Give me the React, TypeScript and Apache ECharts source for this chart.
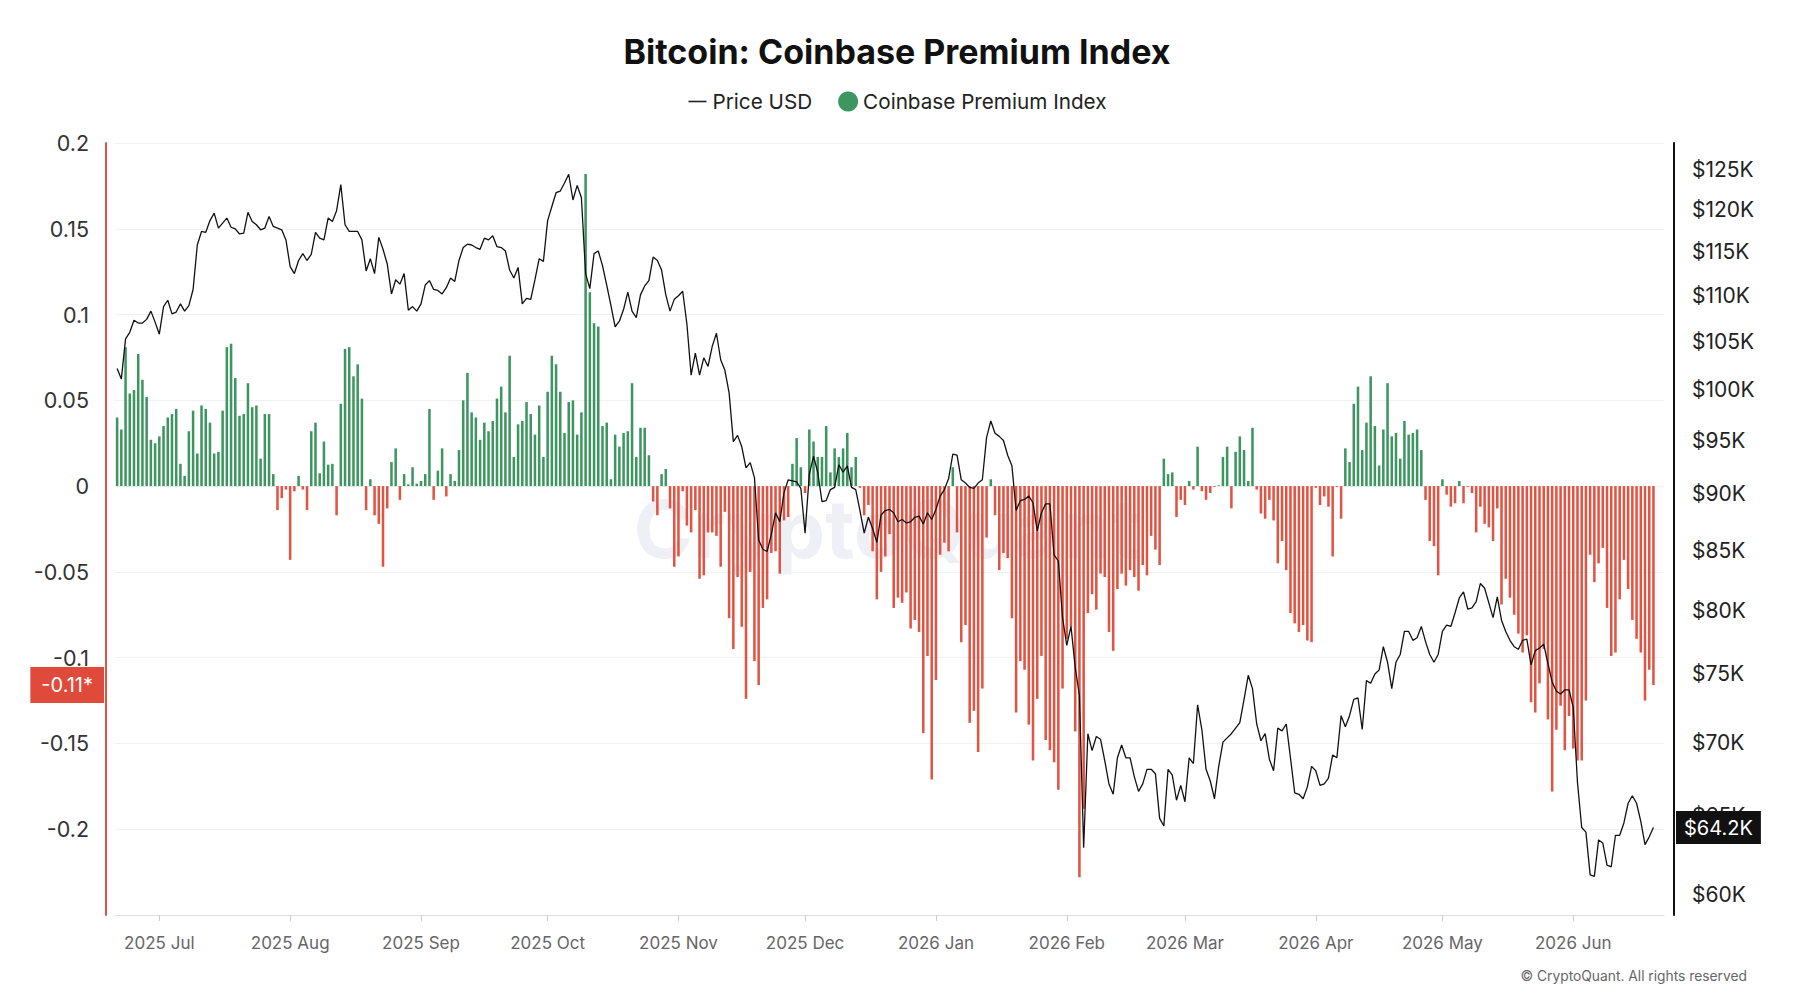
import React, { useEffect, useRef } from "react";
import * as echarts from "echarts";

const FONT = 'Inter, "Noto Sans", Roboto, sans-serif';
const GREEN = "#3d9660";
const RED = "#e25342";

// Daily categories: first day of data and count of category slots
const START_DATE = "2025-06-21";
const DAY_COUNT = 367;
const MONTHS = ["Jan", "Feb", "Mar", "Apr", "May", "Jun", "Jul", "Aug", "Sep", "Oct", "Nov", "Dec"];

// Coinbase Premium Index (daily, from 2025-06-21)
const PREMIUM = [
  0.040, 0.033, 0.081, 0.054, 0.056, 0.077, 0.062, 0.052, 0.027, 0.025,
  0.029, 0.035, 0.040, 0.042, 0.045, 0.013, 0.006, 0.032, 0.044, 0.019,
  0.047, 0.045, 0.037, 0.019, 0.020, 0.044, 0.081, 0.083, 0.063, 0.041,
  0.042, 0.060, 0.046, 0.047, 0.016, 0.042, 0.042, 0.007, -0.014, -0.007,
  -0.002, -0.043, -0.003, 0.006, -0.002, -0.014,
  0.032, 0.037, 0.0075, 0.026, 0.0125, 0.013, -0.017, 0.048, 0.080, 0.081,
  0.064, 0.071, 0.051, -0.014, 0.004, -0.017, -0.022, -0.047, -0.013, 0.014,
  0.022, -0.008, 0.007, 0.001, 0.011, 0.0014, 0.003, 0.007, 0.045, -0.008,
  0.009, 0.022, -0.006, 0.007, 0.003, 0.021, 0.050, 0.066, 0.043, 0.040,
  0.027, 0.037, 0.032, 0.038, 0.051, 0.058,
  0.043, 0.076, 0.017, 0.036, 0.038, 0.049, 0.042, 0.030, 0.047, 0.017,
  0.055, 0.076, 0.071, 0.055, 0.031, 0.049, 0.050, 0.030, 0.043, 0.182,
  0.113, 0.095, 0.093, 0.035, 0.037, 0.004, 0.030, 0.023, 0.031, 0.032,
  0.060, 0.017, 0.034, 0.034, 0.018, -0.009, -0.017, 0.007, 0.010, -0.013,
  -0.047, -0.041, -0.003, -0.023, -0.027, -0.014, -0.054,
  -0.052, -0.027, -0.027, -0.029, -0.047, -0.015, -0.077, -0.095, -0.053, -0.082,
  -0.124, -0.050, -0.102, -0.116, -0.071, -0.066, -0.039, -0.038, -0.051, -0.020,
  -0.018, 0.013, 0.028, 0.011, -0.004, 0.033, 0.026, 0.017, 0.017, 0.035,
  0.008, 0.022, 0.017, 0.022, 0.031, 0.011, 0.017, -0.001, -0.017, -0.011,
  -0.038, -0.066, -0.050, -0.041, -0.028, -0.071,
  -0.065, -0.068, -0.062, -0.083, -0.078, -0.085, -0.144, -0.099, -0.171, -0.113,
  -0.040, -0.033, -0.038, 0.011, -0.027, -0.091, -0.081, -0.138, -0.131, -0.155,
  -0.118, -0.030, 0.004, -0.017, -0.049, -0.039, -0.042, -0.077, -0.132, -0.102,
  -0.107, -0.139, -0.160, -0.124, -0.099, -0.148, -0.154, -0.161, -0.177, -0.118,
  -0.089, -0.082, -0.143, -0.228, -0.188, -0.074,
  -0.063, -0.072, -0.051, -0.053, -0.085, -0.096, -0.060, -0.051, -0.058, -0.049,
  -0.053, -0.061, -0.046, -0.052, -0.029, -0.037, -0.046, 0.016, 0.007, 0.008,
  -0.018, -0.008, -0.011, 0.003, -0.002, 0.023, -0.003, -0.008, -0.004, -0.0005,
  0.0005, 0.017, 0.023, -0.013, 0.020, 0.029, 0.021, 0.003, 0.034, -0.002,
  -0.016, -0.019, -0.008, -0.020, -0.045, -0.032,
  -0.049, -0.074, -0.080, -0.085, -0.081, -0.090, -0.091, -0.001, -0.011, -0.006,
  -0.012, -0.041, -0.0005, -0.019, 0.022, 0.014, 0.048, 0.058, 0.021, 0.037,
  0.064, 0.035, 0.012, 0.033, 0.060, 0.029, 0.031, 0.016, 0.038, 0.030,
  0.031, 0.033, 0.021, -0.008, -0.032, -0.035, -0.052, 0.004, -0.005, -0.012,
  -0.010, 0.003, -0.010, -0.0005, -0.004, -0.027, -0.012,
  -0.022, -0.024, -0.032, -0.013, -0.069, -0.054, -0.065, -0.075, -0.086, -0.097,
  -0.087, -0.126, -0.132, -0.115, -0.095, -0.136, -0.178, -0.142, -0.128, -0.154,
  -0.134, -0.153, -0.160, -0.160, -0.125, -0.040, -0.056, -0.045, -0.036, -0.071,
  -0.099, -0.097, -0.066, -0.043, -0.060, -0.078, -0.089, -0.097, -0.125, -0.107,
  -0.116,
];

// BTC price in USD thousands (daily, from 2025-06-21)
const PRICE = [
  102.2, 101.1, 105.3, 106.0, 107.3, 107.0, 107.0, 107.4, 108.3, 107.1,
  105.8, 108.8, 109.5, 108.0, 108.2, 109.1, 108.3, 108.9, 110.7, 115.8,
  117.4, 117.3, 118.7, 119.6, 117.8, 118.4, 119.0, 117.9, 117.7, 117.1,
  117.2, 119.7, 118.6, 118.2, 117.6, 117.8, 119.2, 118.0, 117.8, 117.6,
  116.4, 113.3, 112.5, 114.0, 114.8, 114.0,
  114.7, 117.3, 116.6, 116.4, 119.0, 118.6, 119.9, 123.1, 118.2, 117.4,
  117.4, 117.4, 116.4, 112.8, 114.2, 112.5, 116.7, 115.3, 113.6, 110.2,
  111.8, 111.3, 112.5, 108.4, 108.8, 108.3, 109.1, 111.2, 111.7, 110.7,
  110.6, 110.2, 110.9, 112.0, 111.6, 114.0, 115.5, 115.9, 115.8, 115.5,
  115.3, 116.6, 116.4, 116.9, 115.6, 115.5,
  115.1, 112.9, 112.0, 113.2, 109.1, 109.7, 109.6, 111.8, 114.2, 113.9,
  118.7, 120.4, 122.1, 122.3, 123.3, 124.4, 121.2, 123.0, 121.5, 112.5,
  110.8, 114.8, 115.1, 113.4, 111.2, 108.9, 106.6, 107.2, 108.5, 110.4,
  108.3, 107.6, 110.1, 111.1, 111.7, 114.4, 114.0, 112.9, 110.1, 108.3,
  109.6, 110.0, 110.5, 106.9, 101.5, 103.8, 101.5,
  103.3, 102.4, 104.5, 105.9, 103.1, 102.0, 99.7, 94.9, 95.5, 94.4,
  92.4, 92.9, 91.5, 85.9, 85.1, 84.9, 86.4, 88.3, 87.5, 90.1,
  91.3, 91.2, 91.1, 90.5, 86.5, 91.8, 93.5, 92.0, 89.3, 89.4,
  90.4, 90.6, 92.7, 92.0, 92.6, 90.6, 90.4, 88.5, 86.5, 87.9,
  86.9, 85.7, 88.1, 88.5, 88.6, 88.3,
  87.5, 87.7, 87.4, 87.5, 87.9, 88.0, 87.3, 88.3, 87.7, 88.6,
  89.8, 90.4, 91.4, 93.7, 93.6, 91.3, 91.0, 90.6, 90.5, 91.0,
  91.3, 95.3, 96.9, 95.7, 95.4, 95.0, 93.6, 92.6, 88.5, 89.4,
  89.5, 89.8, 89.2, 86.7, 88.3, 89.1, 89.1, 84.6, 84.1, 79.4,
  77.2, 78.7, 75.5, 73.4, 62.9, 70.6,
  69.4, 70.4, 70.2, 68.7, 67.1, 66.4, 68.9, 69.8, 68.9, 68.9,
  67.6, 66.6, 67.1, 68.1, 68.1, 67.8, 64.8, 64.3, 68.1, 67.7,
  66.0, 67.0, 65.9, 68.9, 68.5, 72.7, 70.9, 68.1, 67.3, 66.1,
  68.3, 70.0, 70.3, 70.6, 71.0, 71.4, 73.1, 74.9, 73.9, 71.3,
  70.1, 70.6, 68.8, 68.0, 71.0, 70.8,
  71.3, 68.9, 66.5, 66.4, 66.1, 66.9, 68.3, 68.0, 67.0, 67.1,
  67.5, 69.1, 68.9, 71.9, 71.1, 71.9, 73.1, 73.2, 70.9, 74.5,
  74.3, 75.0, 75.3, 77.1, 75.9, 73.9, 75.9, 76.5, 78.3, 78.3,
  77.6, 77.8, 78.7, 77.5, 76.5, 75.9, 76.5, 78.3, 78.8, 78.7,
  79.8, 81.0, 81.5, 80.1, 80.2, 80.7, 82.2,
  81.8, 80.6, 79.4, 81.1, 79.2, 78.3, 77.6, 77.1, 76.9, 77.6,
  77.7, 75.7, 76.8, 77.0, 77.3, 75.8, 74.4, 73.7, 73.5, 73.8,
  73.8, 72.5, 67.2, 64.2, 63.9, 61.2, 61.1, 63.4, 63.2, 61.8,
  61.7, 63.7, 63.7, 64.5, 65.8, 66.3, 65.8, 64.6, 63.1, 63.6,
  64.2,
];

// Axis tick values
const LEFT_MIN = -0.25;
const LEFT_MAX = 0.2;
const LEFT_STEP = 0.05;
const PRICE_MIN = 58.76;
const PRICE_MAX = 128.4;
const PRICE_TICKS = [60, 65, 70, 75, 80, 85, 90, 95, 100, 105, 110, 115, 120, 125];

const LAST_PREMIUM_LABEL = "-0.11*";
const LAST_PRICE_LABEL = "$64.2K";

// legend icon for the price line: a thin dash inside a 20x20 box
const LINE_ICON = "path://M0,0 M20,20 M1,9.2 L19,9.2 L19,10.8 L1,10.8 Z";

function buildDates(): string[] {
  const [y, m, d] = START_DATE.split("-").map(Number);
  const base = Date.UTC(y, m - 1, d);
  const out: string[] = [];
  for (let i = 0; i < DAY_COUNT; i++) {
    const dt = new Date(base + i * 86400000);
    const mm = String(dt.getUTCMonth() + 1).padStart(2, "0");
    const dd = String(dt.getUTCDate()).padStart(2, "0");
    out.push(`${dt.getUTCFullYear()}-${mm}-${dd}`);
  }
  return out;
}

const isMonthStart = (_i: number, v: string) => v.slice(8) === "01";

export default function App() {
  const ref = useRef<HTMLDivElement>(null);

  useEffect(() => {
    if (!ref.current) return;
    const chart = echarts.init(ref.current, undefined, { renderer: "svg" });
    const dates = buildDates();

    const option: any = {
      animation: false,
      backgroundColor: "#ffffff",
      textStyle: { fontFamily: FONT },
      title: {
        text: "Bitcoin: Coinbase Premium Index",
        left: "center",
        top: 29,
        textStyle: { fontSize: 34, fontWeight: "bold", color: "#111111", fontFamily: FONT },
      },
      legend: {
        top: 86,
        left: "center",
        itemWidth: 20,
        itemHeight: 20,
        itemGap: 26,
        textStyle: { fontSize: 20.7, color: "#222222", fontFamily: FONT },
        data: [
          { name: "Price USD", icon: LINE_ICON, itemStyle: { color: "#222222" } },
          { name: "Coinbase Premium Index", icon: "circle", itemStyle: { color: GREEN } },
        ],
      },
      graphic: [
        {
          type: "text",
          x: 887,
          y: 528,
          z: -10,
          silent: true,
          style: {
            text: "CryptoQuant",
            fontSize: 80,
            fontWeight: "bold",
            fontFamily: FONT,
            fill: "#eef0f5",
            align: "center",
            verticalAlign: "middle",
            textAlign: "center",
            textVerticalAlign: "middle",
          },
        },
        {
          type: "text",
          right: 47,
          top: 969,
          style: {
            text: "© CryptoQuant. All rights reserved",
            fontSize: 13.8,
            fontFamily: FONT,
            fill: "#666666",
          },
        },
      ],
      grid: { left: 115, right: 130, top: 143, bottom: 91 },
      xAxis: {
        type: "category",
        data: dates,
        boundaryGap: true,
        axisLine: { onZero: false, lineStyle: { color: "#dddddd", width: 1 } },
        axisTick: { show: true, interval: isMonthStart, alignWithLabel: true, length: 6, lineStyle: { color: "#cccccc" } },
        axisLabel: {
          interval: isMonthStart,
          color: "#666666",
          fontSize: 17,
          margin: 19,
          fontFamily: FONT,
          formatter: (v: string) => `${v.slice(0, 4)} ${MONTHS[Number(v.slice(5, 7)) - 1]}`,
        },
        splitLine: { show: false },
      },
      yAxis: [
        {
          type: "value",
          min: LEFT_MIN,
          max: LEFT_MAX,
          interval: LEFT_STEP,
          position: "left",
          offset: 9,
          axisLine: { show: true, lineStyle: { color: RED, width: 2 } },
          axisTick: { show: false },
          axisLabel: {
            fontSize: 21.5,
            color: "#333333",
            margin: 17,
            fontFamily: FONT,
            formatter: (v: number) => (v < LEFT_MIN + 0.01 ? "" : String(Number(v.toFixed(2)))),
          },
          splitLine: { show: true, lineStyle: { color: "#f1f1f1", width: 1 } },
        },
        {
          type: "log",
          min: PRICE_MIN,
          max: PRICE_MAX,
          position: "right",
          offset: 10,
          axisLine: { show: true, lineStyle: { color: "#111111", width: 2 } },
          axisTick: { show: false },
          axisLabel: {
            customValues: PRICE_TICKS,
            fontSize: 21,
            color: "#222222",
            margin: 18,
            fontFamily: FONT,
            formatter: (v: number) => `$${Math.round(v)}K`,
          },
          splitLine: { show: false },
        },
      ],
      series: [
        {
          name: "Coinbase Premium Index",
          type: "bar",
          yAxisIndex: 0,
          data: PREMIUM,
          barWidth: "60%",
          itemStyle: { color: (p: any) => (p.value >= 0 ? GREEN : RED) },
          markLine: {
            silent: true,
            symbol: "none",
            precision: 4,
            lineStyle: { color: "rgba(0,0,0,0)", width: 0 },
            label: {
              position: "start",
              distance: 11,
              formatter: LAST_PREMIUM_LABEL,
              backgroundColor: "#e04a3a",
              color: "#ffffff",
              fontSize: 20,
              fontFamily: FONT,
              padding: [8, 11, 8, 11],
            },
            data: [{ yAxis: PREMIUM[PREMIUM.length - 1] }],
          },
        },
        {
          name: "Price USD",
          type: "line",
          yAxisIndex: 1,
          data: PRICE,
          symbol: "none",
          showSymbol: false,
          z: 3,
          lineStyle: { color: "#111111", width: 1.3 },
          itemStyle: { color: "#111111" },
          markLine: {
            silent: true,
            symbol: "none",
            precision: 4,
            lineStyle: { color: "rgba(0,0,0,0)", width: 0 },
            label: {
              position: "end",
              distance: 12,
              formatter: LAST_PRICE_LABEL,
              backgroundColor: "#111111",
              color: "#ffffff",
              fontSize: 20,
              fontFamily: FONT,
              padding: [7, 8, 6, 8],
            },
            data: [{ yAxis: PRICE[PRICE.length - 1] }],
          },
        },
      ],
    };

    chart.setOption(option);
    return () => chart.dispose();
  }, []);

  return (
    <div
      ref={ref}
      style={{ position: "absolute", left: 0, top: 0, width: 1794, height: 1006, background: "#fff" }}
    />
  );
}
